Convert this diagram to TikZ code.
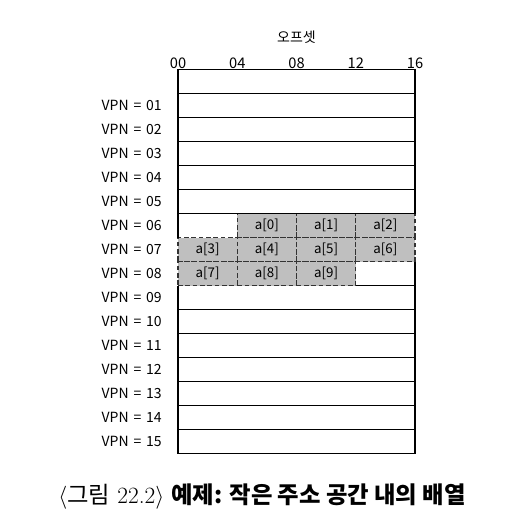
\documentclass[tikz,border=0pt]{standalone}
\usepackage{fontspec}
\newfontfamily\kr{Noto Sans CJK KR}
\usetikzlibrary{positioning,calc}

\tikzset{
  rowbox/.style={rectangle, minimum width=177.75pt, minimum height=18pt,
    inner sep=0pt, outer sep=0pt},
  cellbox/.style={rectangle, fill=gray!50, draw=black!80,
    dash pattern=on 3.5pt off 2pt, line width=0.9pt,
    minimum width=44.4375pt, minimum height=18pt,
    inner sep=0pt, outer sep=0pt, font=\kr\fontsize{10}{11}\selectfont},
  vpnlabel/.style={inner sep=0pt, font=\kr\fontsize{10.5}{11}\selectfont},
  ticklabel/.style={inner sep=0.5pt, anchor=south, font=\kr\fontsize{11}{12}\selectfont},
  titlelabel/.style={inner sep=0pt, font=\kr\fontsize{10.5}{11}\selectfont},
  captext/.style={inner sep=0pt, font=\fontsize{17.5}{20}\selectfont},
  gridline/.style={line width=1.1pt}
}

\begin{document}
\begin{tikzpicture}[x=0.75pt, y=-0.75pt]
  \useasboundingbox (0,0) rectangle (507,524);

  \node[rowbox, anchor=north west] (r0) at (178,69.5) {};
  \foreach \i [count=\j from 0] in {1,...,15} {
    \node[rowbox, below=0pt of r\j] (r\i) {};
    \node[vpnlabel, left=12pt of r\i] (v\i) {VPN\hspace{0.35em}=\hspace{0.35em}\ifnum\i<10 0\fi\i};
  }

  \node[cellbox, right=44.4375pt of r6.west] (a0) {a[0]};
  \node[cellbox, right=0pt of a0] (a1) {a[1]};
  \node[cellbox, right=0pt of a1] (a2) {a[2]};
  \node[cellbox, right=0pt of r7.west] (a3) {a[3]};
  \node[cellbox, right=0pt of a3] (a4) {a[4]};
  \node[cellbox, right=0pt of a4] (a5) {a[5]};
  \node[cellbox, right=0pt of a5] (a6) {a[6]};
  \node[cellbox, right=0pt of r8.west] (a7) {a[7]};
  \node[cellbox, right=0pt of a7] (a8) {a[8]};
  \node[cellbox, right=0pt of a8] (a9) {a[9]};

  \foreach \i in {0,...,5,10,11,...,15}
    \draw[gridline] (r\i.north west) rectangle (r\i.south east);
  \draw[gridline] (r6.north west) -- (r6.south west);
  \draw[gridline] (r8.north east) -- (r8.south east) -- (a9.south east);
  \draw[gridline] (r9.north west) -- (r9.south west) -- (r9.south east) -- (r9.north east);

  \foreach \t/\f in {00/0, 04/0.25, 08/0.5, 12/0.75, 16/1}
    \node[ticklabel] (t\t) at ($(r0.north west)!\f!(r0.north east)$) {\t};
  \node[titlelabel, above=10pt of t08] (offset) {오프셋};

  \node[captext] (cap) at (262,497)
    {$\langle${\kr 그림} 22.2$\rangle$ {\kr\bfseries 예제: 작은 주소 공간 내의 배열}};
\end{tikzpicture}
\end{document}
